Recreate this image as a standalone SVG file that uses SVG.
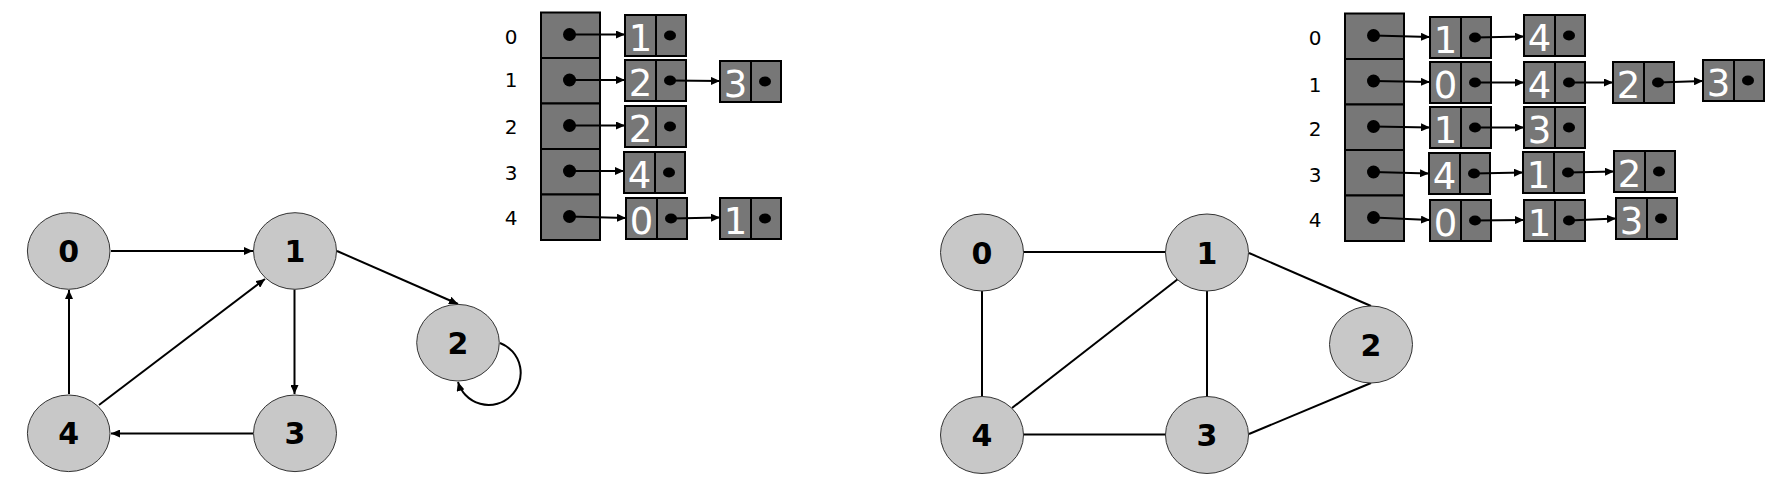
<svg xmlns="http://www.w3.org/2000/svg" width="1790" height="487" viewBox="0 0 1790 487">
<defs>
<style>
.gn{fill:#c8c8c8;stroke:#333;stroke-width:1}
.gl{font-family:"DejaVu Sans",Verdana,sans-serif;font-weight:bold;font-size:30px;fill:#000;text-anchor:middle}
.ix{font-family:"DejaVu Sans",Verdana,sans-serif;font-size:20px;fill:#000;text-anchor:middle}
.cell{fill:#777;stroke:#000;stroke-width:2}
.cd{font-family:"DejaVu Sans",Verdana,sans-serif;font-size:37px;fill:#fff;text-anchor:middle}
.e{fill:none;stroke:#000;stroke-width:2}
.a{fill:none;stroke:#000;stroke-width:2;marker-end:url(#ah)}
.dot{fill:#000}
</style>
<marker id="ah" markerUnits="userSpaceOnUse" markerWidth="9" markerHeight="8" refX="9" refY="4" orient="auto">
<path d="M0,0 L9,4 L0,8 z" fill="#000"/>
</marker>
<g id="ln">
<rect class="cell" x="0" y="0" width="31" height="41"/>
<rect class="cell" x="31" y="0" width="30" height="41"/>
<ellipse class="dot" cx="45" cy="20.5" rx="6" ry="5"/>
</g>
<g id="ac">
<rect class="cell" x="0" y="0" width="59" height="45.5"/>
<circle class="dot" cx="28.5" cy="22" r="6.5"/>
</g>
</defs>
<rect width="1790" height="487" fill="#fff"/>

<!-- Left directed graph -->
<g id="left-edges">
<path class="a" d="M111 251 L253 251"/>
<path class="a" d="M337 251 L458 304"/>
<path class="a" d="M294.5 289.5 L294.5 394"/>
<path class="a" d="M253 433.5 L111 433.5"/>
<path class="a" d="M69 394 L69 290"/>
<path class="a" d="M99 405 L265 279"/>
<path class="a" d="M500 343 A32 32 0 1 1 458 382"/>
</g>
<g id="l-node-0"><ellipse class="gn" cx="68.7" cy="251" rx="41.3" ry="38.3"/><text class="gl" x="68.7" y="262">0</text></g>
<g id="l-node-1"><ellipse class="gn" cx="295" cy="251" rx="41.5" ry="38.3"/><text class="gl" x="295" y="262">1</text></g>
<g id="l-node-2"><ellipse class="gn" cx="458" cy="342.7" rx="41.3" ry="38.3"/><text class="gl" x="458" y="353.7">2</text></g>
<g id="l-node-3"><ellipse class="gn" cx="295" cy="433.3" rx="41.5" ry="38.3"/><text class="gl" x="295" y="444.3">3</text></g>
<g id="l-node-4"><ellipse class="gn" cx="68.7" cy="433.3" rx="41.3" ry="38.3"/><text class="gl" x="68.7" y="444.3">4</text></g>

<!-- Left adjacency list -->
<g id="l-index">
<text class="ix" x="511" y="44">0</text>
<text class="ix" x="511" y="87">1</text>
<text class="ix" x="511" y="134">2</text>
<text class="ix" x="511" y="180">3</text>
<text class="ix" x="511" y="225">4</text>
</g>
<g id="l-array">
<use href="#ac" x="541" y="12.5"/>
<use href="#ac" x="541" y="58"/>
<use href="#ac" x="541" y="103.5"/>
<use href="#ac" x="541" y="149"/>
<use href="#ac" x="541" y="194.5"/>
</g>
<g id="l-list-0"><use href="#ln" x="625" y="15"/><text class="cd" x="640.5" y="51">1</text></g>
<g id="l-list-1a"><use href="#ln" x="625" y="60"/><text class="cd" x="640.5" y="96">2</text></g>
<g id="l-list-1b"><use href="#ln" x="720" y="61"/><text class="cd" x="735.5" y="97">3</text></g>
<g id="l-list-2"><use href="#ln" x="625" y="106"/><text class="cd" x="640.5" y="142">2</text></g>
<g id="l-list-3"><use href="#ln" x="624" y="152"/><text class="cd" x="639.5" y="188">4</text></g>
<g id="l-list-4a"><use href="#ln" x="626" y="198"/><text class="cd" x="641.5" y="234">0</text></g>
<g id="l-list-4b"><use href="#ln" x="720" y="198"/><text class="cd" x="735.5" y="234">1</text></g>
<g id="l-list-arrows">
<path class="a" d="M569 34.5 L625 34.5"/>
<path class="a" d="M569 80 L625 80"/>
<path class="a" d="M670 80.5 L720 81"/>
<path class="a" d="M569 125.5 L625 125.5"/>
<path class="a" d="M569 171 L624 171"/>
<path class="a" d="M569 216.5 L626 218"/>
<path class="a" d="M671 218.5 L720 217.5"/>
</g>

<!-- Right undirected graph -->
<g id="right-edges">
<path class="e" d="M1023 252 L1166 252"/>
<path class="e" d="M982 291 L982 396"/>
<path class="e" d="M1178 279 L1012 408"/>
<path class="e" d="M1207 291 L1207 397"/>
<path class="e" d="M1249 253 L1371 306"/>
<path class="e" d="M1023 434.5 L1166 434.5"/>
<path class="e" d="M1249 434 L1371 383"/>
</g>
<g id="r-node-0"><ellipse class="gn" cx="982" cy="252.5" rx="41.5" ry="38.5"/><text class="gl" x="982" y="263.5">0</text></g>
<g id="r-node-1"><ellipse class="gn" cx="1207" cy="252.5" rx="41.5" ry="38.5"/><text class="gl" x="1207" y="263.5">1</text></g>
<g id="r-node-2"><ellipse class="gn" cx="1371" cy="344.5" rx="41.5" ry="38.5"/><text class="gl" x="1371" y="355.5">2</text></g>
<g id="r-node-3"><ellipse class="gn" cx="1207" cy="435" rx="41.5" ry="38.5"/><text class="gl" x="1207" y="446">3</text></g>
<g id="r-node-4"><ellipse class="gn" cx="982" cy="435" rx="41.5" ry="38.5"/><text class="gl" x="982" y="446">4</text></g>

<!-- Right adjacency list -->
<g id="r-index">
<text class="ix" x="1315" y="45">0</text>
<text class="ix" x="1315" y="92">1</text>
<text class="ix" x="1315" y="136">2</text>
<text class="ix" x="1315" y="182">3</text>
<text class="ix" x="1315" y="227">4</text>
</g>
<g id="r-array">
<use href="#ac" x="1345" y="13.5"/>
<use href="#ac" x="1345" y="59"/>
<use href="#ac" x="1345" y="104.5"/>
<use href="#ac" x="1345" y="150"/>
<use href="#ac" x="1345" y="195.5"/>
</g>
<g id="r-list-0a"><use href="#ln" x="1430" y="17"/><text class="cd" x="1445.5" y="53">1</text></g>
<g id="r-list-0b"><use href="#ln" x="1524" y="15"/><text class="cd" x="1539.5" y="51">4</text></g>
<g id="r-list-1a"><use href="#ln" x="1430" y="62"/><text class="cd" x="1445.5" y="98">0</text></g>
<g id="r-list-1b"><use href="#ln" x="1524" y="62"/><text class="cd" x="1539.5" y="98">4</text></g>
<g id="r-list-1c"><use href="#ln" x="1613" y="62"/><text class="cd" x="1628.5" y="98">2</text></g>
<g id="r-list-1d"><use href="#ln" x="1703" y="60"/><text class="cd" x="1718.5" y="96">3</text></g>
<g id="r-list-2a"><use href="#ln" x="1430" y="107"/><text class="cd" x="1445.5" y="143">1</text></g>
<g id="r-list-2b"><use href="#ln" x="1524" y="107"/><text class="cd" x="1539.5" y="143">3</text></g>
<g id="r-list-3a"><use href="#ln" x="1429" y="153"/><text class="cd" x="1444.5" y="189">4</text></g>
<g id="r-list-3b"><use href="#ln" x="1523" y="152"/><text class="cd" x="1538.5" y="188">1</text></g>
<g id="r-list-3c"><use href="#ln" x="1614" y="151"/><text class="cd" x="1629.5" y="187">2</text></g>
<g id="r-list-4a"><use href="#ln" x="1430" y="200"/><text class="cd" x="1445.5" y="236">0</text></g>
<g id="r-list-4b"><use href="#ln" x="1524" y="200"/><text class="cd" x="1539.5" y="236">1</text></g>
<g id="r-list-4c"><use href="#ln" x="1616" y="198"/><text class="cd" x="1631.5" y="234">3</text></g>
<g id="r-list-arrows">
<path class="a" d="M1373.5 35.5 L1430 37"/>
<path class="a" d="M1475 37.5 L1524 36.5"/>
<path class="a" d="M1373.5 81 L1430 82"/>
<path class="a" d="M1475 82.5 L1524 82.5"/>
<path class="a" d="M1569 82.5 L1613 82.5"/>
<path class="a" d="M1658 82.5 L1703 81"/>
<path class="a" d="M1373.5 126.5 L1430 127.5"/>
<path class="a" d="M1475 127.5 L1524 127.5"/>
<path class="a" d="M1373.5 172 L1429 173.5"/>
<path class="a" d="M1474 173.5 L1523 172.5"/>
<path class="a" d="M1568 172.5 L1614 171.5"/>
<path class="a" d="M1373.5 217.5 L1430 220"/>
<path class="a" d="M1475 220.5 L1524 220"/>
<path class="a" d="M1569 220.5 L1616 218.5"/>
</g>
</svg>
